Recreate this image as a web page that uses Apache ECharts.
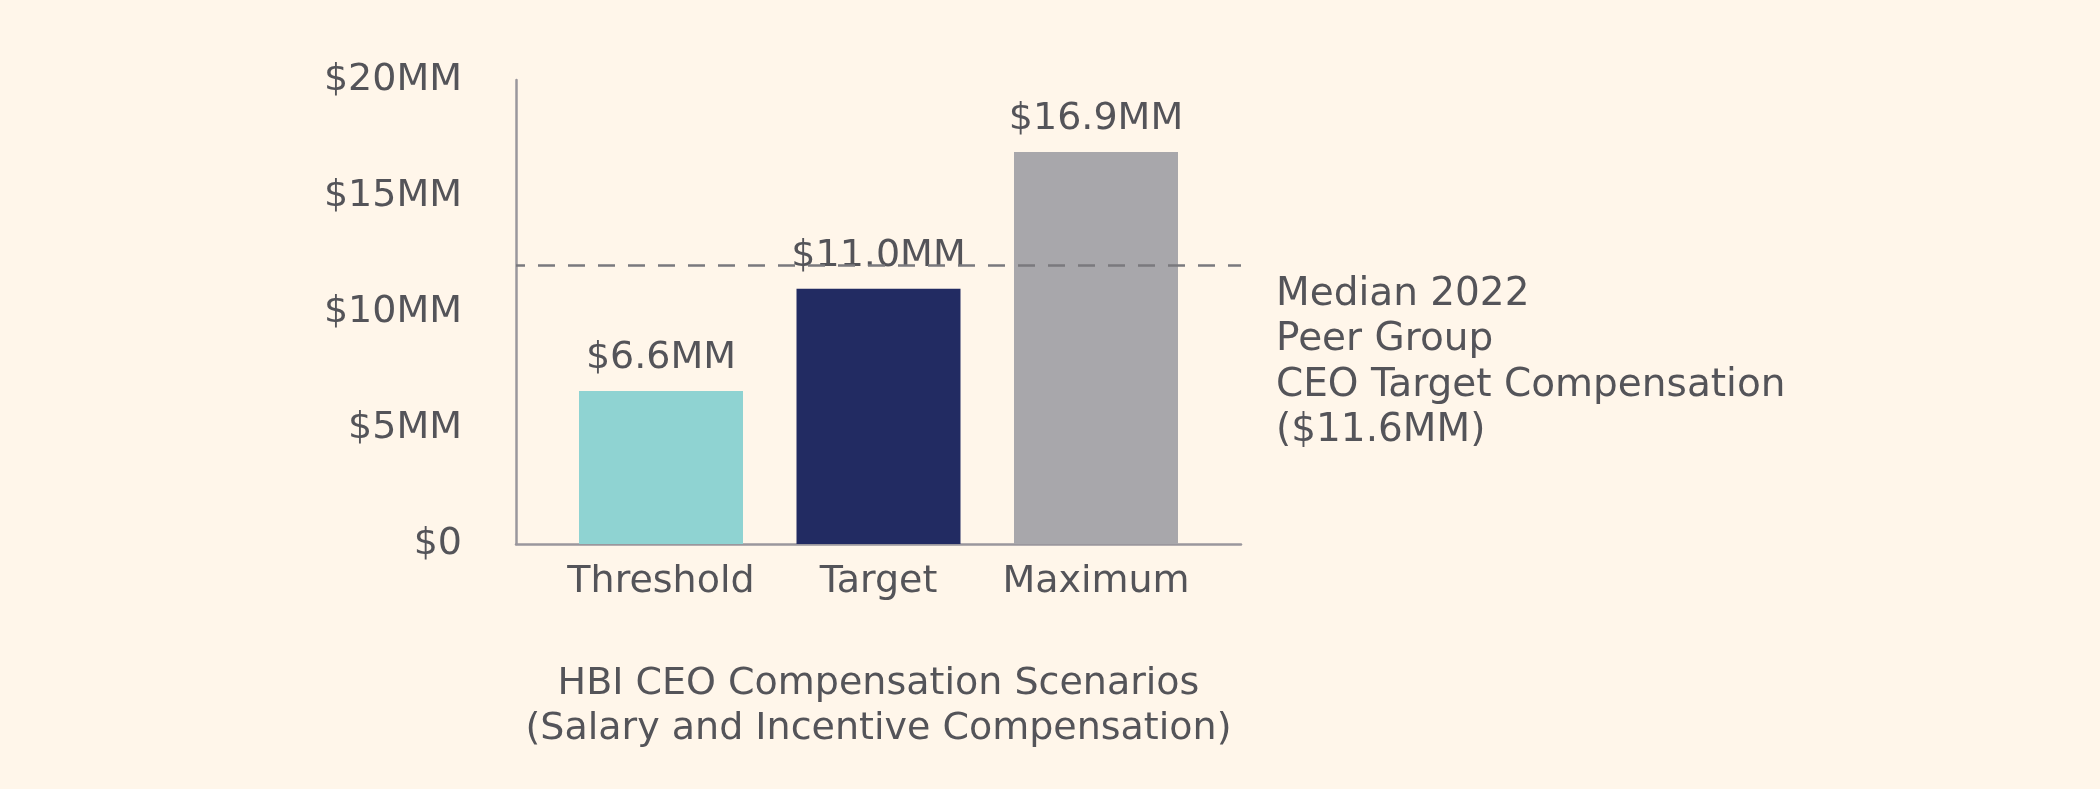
<!DOCTYPE html>
<html>
<head>
<meta charset="utf-8">
<script src="https://cdn.jsdelivr.net/npm/echarts@6/dist/echarts.min.js"></script>
<style>
html,body{margin:0;padding:0;background:#fff6ea;}
#chart{width:2100px;height:789px;}
</style>
</head>
<body>
<div id="chart"></div>
<script>
const categories = ['Threshold', 'Target', 'Maximum'];
const values = [6.6, 11.0, 16.9];
const valueLabels = ['$6.6MM', '$11.0MM', '$16.9MM'];
const barColors = ['#8fd3d2', '#222b62', '#a8a7ab'];
const yTicks = [0, 5, 10, 15, 20];
const yTickLabels = ['$0', '$5MM', '$10MM', '$15MM', '$20MM'];
const medianLine = 12.0;
const annotationLines = ['Median 2022', 'Peer Group', 'CEO Target Compensation', '($11.6MM)'];
const titleLines = ['HBI CEO Compensation Scenarios', '(Salary and Incentive Compensation)'];

const FONT = 'DejaVu Sans';
const TXT = '#545459';
const FS = 38;

const chart = echarts.init(document.getElementById('chart'), null, {renderer: 'canvas'});

const option = {
  backgroundColor: '#fff6ea',
  animation: false,
  textStyle: {fontFamily: FONT},
  grid: {left: 516, right: 859, top: 80, bottom: 245, containLabel: false},
  xAxis: {
    type: 'value',
    min: -2 / 3,
    max: 8 / 3,
    axisLine: {show: true, onZero: false, lineStyle: {color: '#9a979d', width: 2.5}},
    axisTick: {show: false},
    splitLine: {show: false},
    axisLabel: {
      show: true,
      margin: 19,
      color: TXT,
      fontFamily: FONT,
      fontSize: FS,
      formatter: function (v) {
        const r = Math.round(v);
        if (Math.abs(v - r) < 1e-6 && r >= 0 && r < categories.length) return categories[r];
        return '';
      }
    }
  },
  yAxis: {
    type: 'value',
    min: 0,
    max: 20,
    interval: 5,
    axisLine: {show: true, onZero: false, lineStyle: {color: '#9a979d', width: 2.5}},
    axisTick: {show: false},
    splitLine: {show: false},
    axisLabel: {
      margin: 54,
      color: TXT,
      fontFamily: FONT,
      fontSize: FS,
      formatter: function (v) {
        const i = yTicks.indexOf(v);
        return i >= 0 ? yTickLabels[i] : '';
      }
    }
  },
  series: [{
    type: 'bar',
    barWidth: 164,
    data: values.map(function (v, i) {
      return {value: [i, v], itemStyle: {color: barColors[i]}};
    }),
    label: {
      show: true,
      position: 'top',
      distance: 14,
      color: TXT,
      fontFamily: FONT,
      fontSize: FS,
      formatter: function (p) { return valueLabels[p.dataIndex]; }
    },
    markLine: {
      silent: true,
      symbol: 'none',
      label: {show: false},
      lineStyle: {color: '#7a797e', type: [17, 13], dashOffset: 8, width: 2.5},
      data: [{yAxis: medianLine}]
    }
  }],
  graphic: [
    {
      type: 'text',
      left: 1276,
      top: 272,
      style: {
        text: annotationLines.join('\n'),
        fill: TXT,
        font: '39px "' + FONT + '"',
        lineHeight: 45.5,
        textAlign: 'left'
      }
    },
    {
      type: 'text',
      x: 878.5,
      y: 662,
      style: {
        text: titleLines.join('\n'),
        fill: TXT,
        font: FS + 'px "' + FONT + '"',
        lineHeight: 45,
        textAlign: 'center',
        textVerticalAlign: 'top'
      }
    }
  ]
};
chart.setOption(option);
</script>
</body>
</html>
